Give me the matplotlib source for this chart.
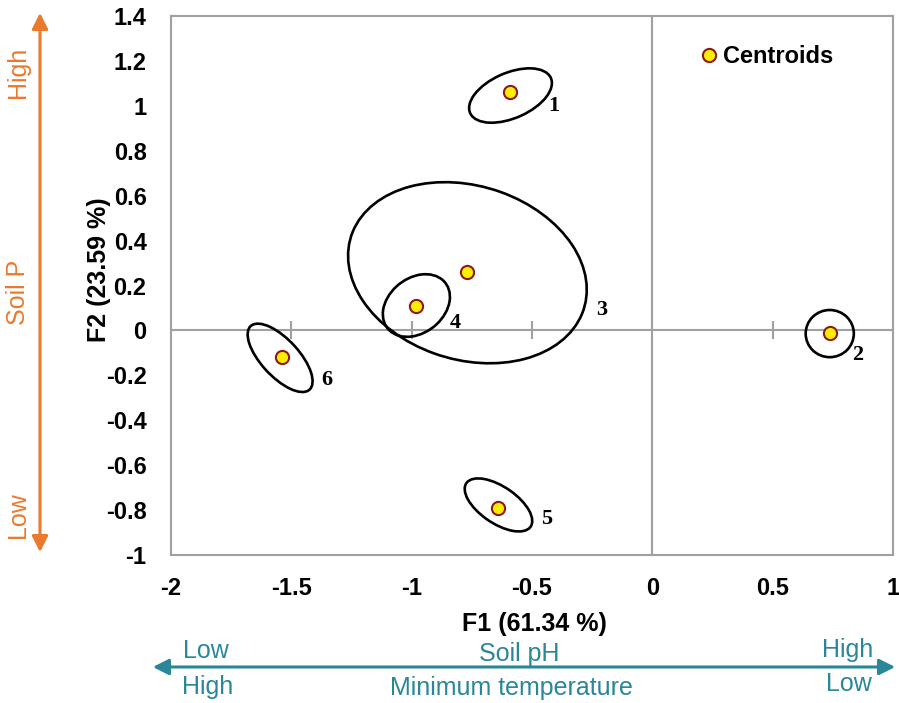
import matplotlib
matplotlib.use('Agg')
import matplotlib.pyplot as plt
from matplotlib.patches import Ellipse, FancyArrowPatch
import numpy as np

# centroids of the six groups on the discriminant axes
groups = ['1', '2', '3', '4', '5', '6']
f1 = [-0.59, 0.74, -0.77, -0.98, -0.64, -1.54]
f2 = [1.06, -0.01, 0.26, 0.11, -0.79, -0.12]

# confidence ellipses: centre, width, height (axis units), rotation (deg)
ell_x = [-0.589, 0.737, -0.768, -0.980, -0.639, -1.546]
ell_y = [1.046, -0.014, 0.257, 0.111, -0.777, -0.122]
ell_w = [0.37, 0.20, 1.02, 0.315, 0.33, 0.374]
ell_h = [0.20, 0.21, 0.77, 0.237, 0.16, 0.16]
ell_ang = [26, 0, -21, 45, -37, -50]

# where the group numbers sit
lab_x = [-0.41, 0.855, -0.21, -0.82, -0.44, -1.35]
lab_y = [1.00, -0.11, 0.09, 0.035, -0.84, -0.22]

xticks = [-2, -1.5, -1, -0.5, 0, 0.5, 1]
yticks = [-1, -0.8, -0.6, -0.4, -0.2, 0, 0.2, 0.4, 0.6, 0.8, 1, 1.2, 1.4]
inner_ticks = [-1.5, -1, -0.5, 0.5]

gray = '#a0a0a0'
orange = '#ea7a2c'
teal = '#2a8799'
sans = ['Liberation Sans', 'DejaVu Sans']
serif = ['Liberation Serif', 'DejaVu Serif']

fig = plt.figure(figsize=(8.99, 7.03), dpi=100)
ax = fig.add_axes([0.190, 0.2105, 0.8034, 0.7667])

ax.set_xlim(-2, 1)
ax.set_ylim(-1, 1.4)
for s in ax.spines.values():
    s.set_color(gray)
    s.set_linewidth(1.5)

ax.axhline(0, color=gray, lw=1.5, zorder=1)
ax.axvline(0, color=gray, lw=1.5, zorder=1)
ax.plot(inner_ticks, np.zeros(len(inner_ticks)), ls='none', marker='|',
        ms=13, mew=1.5, color=gray, zorder=1)

ax.set_xticks(xticks)
ax.set_yticks(yticks)
ax.set_xticklabels(['%g' % v for v in xticks])
ax.set_yticklabels(['%g' % v for v in yticks])
ax.tick_params(length=0)
ax.tick_params(axis='x', pad=15.5)
ax.tick_params(axis='y', pad=17.5)
for lbl in ax.get_xticklabels() + ax.get_yticklabels():
    lbl.set_fontfamily(sans)
    lbl.set_fontweight('bold')
    lbl.set_fontsize(17)

ax.set_xlabel('F1 (61.34 %)', fontsize=18, fontweight='bold', family=sans)
ax.set_ylabel('F2 (23.59 %)', fontsize=18, fontweight='bold', family=sans)
ax.xaxis.set_label_coords(0.503, -0.105)
ax.yaxis.set_label_coords(-0.083, 0.53)

for i in range(len(groups)):
    ax.add_patch(Ellipse((ell_x[i], ell_y[i]), ell_w[i], ell_h[i], angle=ell_ang[i],
                         fill=False, ec='black', lw=1.9, zorder=2))
    ax.text(lab_x[i], lab_y[i], groups[i], fontsize=16, fontweight='bold',
            family=serif, ha='center', va='center', zorder=3)

ax.plot(f1, f2, ls='none', marker='o', ms=9.5, mfc='#ffee00', mec='#8b1a1a',
        mew=1.5, zorder=4, label='Centroids')
leg = ax.legend(loc='upper right', bbox_to_anchor=(0.94, 0.977), frameon=False,
                handletextpad=0.0, handlelength=1.2, borderaxespad=0.3,
                prop={'family': sans, 'weight': 'bold', 'size': 17})

# explanatory arrows outside the plot
W, H = 899, 703


def fx(px):
    return px / W


def fy(py):
    return 1 - py / H


fig.add_artist(FancyArrowPatch((fx(150), fy(667)), (fx(898), fy(667)),
                               transform=fig.transFigure, arrowstyle='<|-|>',
                               mutation_scale=24, color=teal, lw=2.2))
fig.add_artist(FancyArrowPatch((fx(40), fy(10)), (fx(40), fy(555)),
                               transform=fig.transFigure, arrowstyle='<|-|>',
                               mutation_scale=24, color=orange, lw=2.2))

tkw = dict(transform=fig.transFigure, fontsize=18, family=sans, va='center')
fig.text(fx(206), fy(651), 'Low', color=teal, ha='center', **tkw)
fig.text(fx(519), fy(654), 'Soil pH', color=teal, ha='center', **tkw)
fig.text(fx(848), fy(650), 'High', color=teal, ha='center', **tkw)
fig.text(fx(208), fy(687), 'High', color=teal, ha='center', **tkw)
fig.text(fx(511), fy(688), 'Minimum temperature', color=teal, ha='center', **tkw)
fig.text(fx(849), fy(684), 'Low', color=teal, ha='center', **tkw)

fig.text(fx(18), fy(72), 'High', color=orange, ha='center', rotation=90, **tkw)
fig.text(fx(18), fy(292), 'Soil P', color=orange, ha='center', rotation=90, **tkw)
fig.text(fx(18), fy(515), 'Low', color=orange, ha='center', rotation=90, **tkw)

fig.savefig('out.png', dpi=100)
